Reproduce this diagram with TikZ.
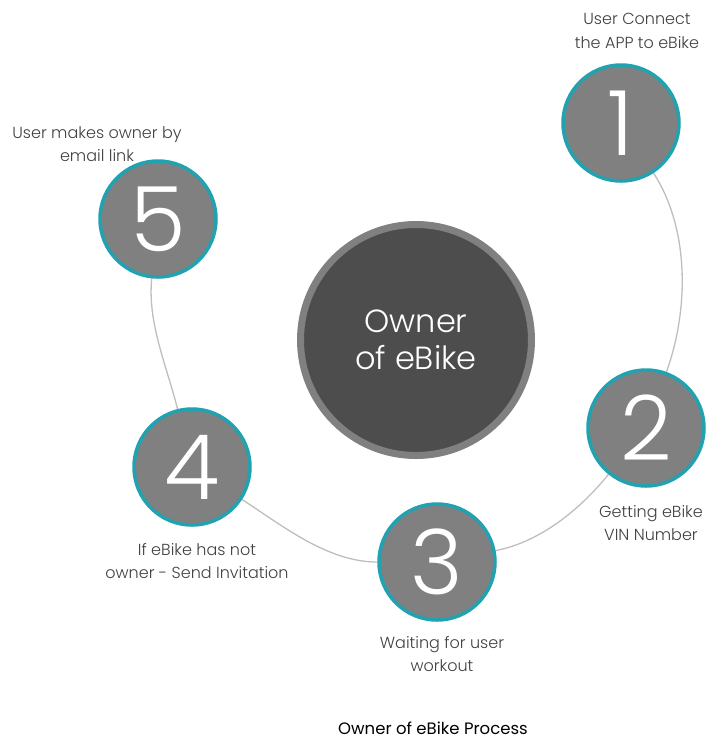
\documentclass[tikz,border=0pt]{standalone}
\usepackage{fontspec}
\setmainfont{Poppins Light}
\newfontfamily\titlefont{Poppins}
\usetikzlibrary{backgrounds}
\definecolor{ringteal}{RGB}{32,162,176}
\definecolor{stepgray}{RGB}{128,128,128}
\definecolor{hubfill}{RGB}{77,77,77}
\definecolor{hubring}{RGB}{128,128,128}
\definecolor{arcgray}{RGB}{190,190,190}
\definecolor{labelgray}{RGB}{64,64,64}
\begin{document}
\begin{tikzpicture}[x=1pt,y=-1pt,
  numcircle/.style={circle, draw=ringteal, line width=3.5pt, fill=stepgray,
    minimum size=116pt, inner sep=0pt, text=white,
    font=\fontsize{90}{90}\selectfont},
  hubcircle/.style={circle, draw=hubring, line width=7pt, fill=hubfill,
    minimum size=231pt, inner sep=0pt, text=white, align=center,
    font=\fontsize{32}{37}\selectfont},
  steplabel/.style={align=center, text=labelgray, inner sep=0pt,
    font=\fontsize{16}{23.5}\selectfont},
  linkarc/.style={draw=arcgray, line width=1.3pt, looseness=0.85}
]
\useasboundingbox (0,0) rectangle (723,740);

\node[hubcircle] (hub) at (416,340) {Owner\\of eBike};

\node[numcircle] (c1) at (621,123) {1};
\node[numcircle] (c2) at (646,428) {2};
\node[numcircle] (c3) at (437,562) {3};
\node[numcircle] (c4) at (192,467) {4};
\node[numcircle] (c5) at (158,219) {5};

\begin{scope}[on background layer]
  \draw[linkarc] (c1) to[out=-57, in=70] (c2);
  \draw[linkarc] (c2) to[out=-129, in=11] (c3);
  \draw[linkarc] (c3) to[out=180, in=-33] (c4);
  \draw[linkarc] (c4) to[out=104, in=-96] (c5);
\end{scope}

\node[steplabel] (l1) at (637,31) {User Connect\\the APP to eBike};
\node[steplabel] (l2) at (651,523) {Getting eBike\\VIN Number};
\node[steplabel] (l3) at (442,654) {Waiting for user\\workout};
\node[steplabel] (l4) at (197,561) {If eBike has not\\owner - Send Invitation};
\node[steplabel] (l5) at (97,144) {User makes owner by\\email link};

\node[text=black, inner sep=0pt, font=\titlefont\fontsize{16.5}{18}\selectfont] (title) at (433,728) {Owner of eBike Process};
\end{tikzpicture}
\end{document}
